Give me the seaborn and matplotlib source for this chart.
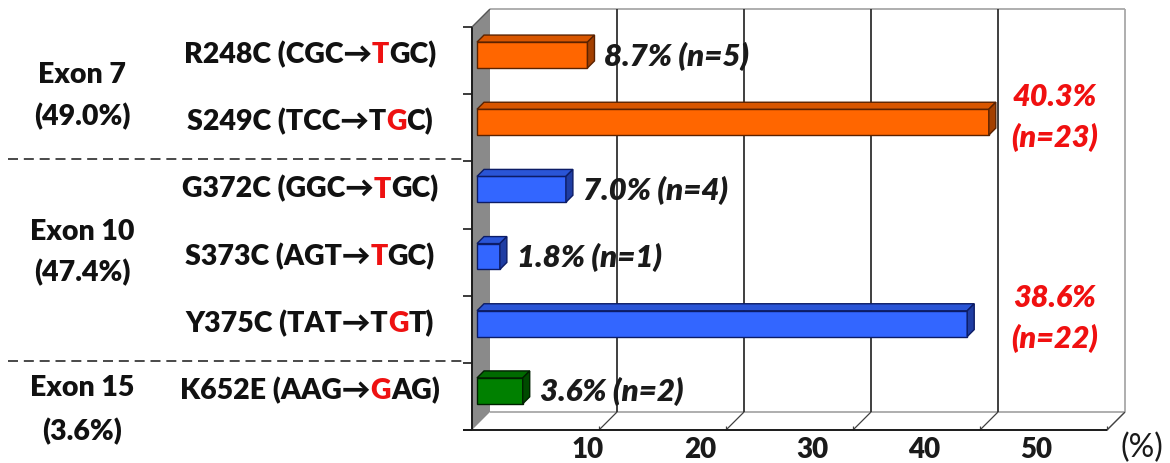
import matplotlib
matplotlib.use("Agg")
import matplotlib.pyplot as plt
from matplotlib.patches import Polygon
import numpy as np
import pandas as pd
import seaborn as sns

# ---- data -------------------------------------------------------------
mutations = ["R248C", "S249C", "G372C", "S373C", "Y375C", "K652E"]
codon_parts = [
    [("R248C (CGC\u2192", "k"), ("T", "r"), ("GC)", "k")],
    [("S249C (TCC\u2192T", "k"), ("G", "r"), ("C)", "k")],
    [("G372C (GGC\u2192", "k"), ("T", "r"), ("GC)", "k")],
    [("S373C (AGT\u2192", "k"), ("T", "r"), ("GC)", "k")],
    [("Y375C (TAT\u2192T", "k"), ("G", "r"), ("T)", "k")],
    [("K652E (AAG\u2192", "k"), ("G", "r"), ("AG)", "k")],
]
percent = [8.7, 40.3, 7.0, 1.8, 38.6, 3.6]
counts = [5, 23, 4, 1, 22, 2]
exon_of = ["Exon 7", "Exon 7", "Exon 10", "Exon 10", "Exon 10", "Exon 15"]
exon_names = ["Exon 7", "Exon 10", "Exon 15"]
exon_share = ["(49.0%)", "(47.4%)", "(3.6%)"]
highlight = [False, True, False, False, True, False]
x_ticks = [10, 20, 30, 40, 50]

# bar shading per exon: front, top, side, outline
shades = {
    "Exon 7": ("#FF6600", "#D95600", "#A34000", "#5A2200"),
    "Exon 10": ("#3366FF", "#2A55D6", "#1F3DA3", "#0C1C66"),
    "Exon 15": ("#008000", "#006A00", "#004A00", "#002000"),
}

# ---- figure / projection ----------------------------------------------
W, H = 1170, 464
fig = plt.figure(figsize=(W / 100, H / 100), dpi=100)
fig.patch.set_facecolor("white")

PX_X = 12.7       # pixels per percent
PX_Y = 67.17      # pixels per category row
X0_PX = 477       # pixel column of 0 % on the bar plane
Y0_PX = 56        # pixel row of first category centre
L_PX, R_PX, T_PX, B_PX = 460, 1135, 6, 436

ax = fig.add_axes([L_PX / W, (H - B_PX) / H, (R_PX - L_PX) / W, (B_PX - T_PX) / H])

df = pd.DataFrame({"mutation": mutations, "percent": percent, "exon": exon_of})
front_cols = [shades[e][0] for e in exon_of]
sns.barplot(data=df, x="percent", y="mutation", hue="mutation", palette=front_cols,
            legend=False, orient="h", width=0.385, ax=ax, zorder=5,
            linewidth=1.0, saturation=1)

ax.set_xlim((L_PX - X0_PX) / PX_X, (R_PX - X0_PX) / PX_X)
ax.set_ylim((B_PX - Y0_PX) / PX_Y, (T_PX - Y0_PX) / PX_Y)
ax.axis("off")


def px(xp, yp):
    """Pixel position (from top-left) -> data coordinates."""
    return ((xp - X0_PX) / PX_X, (yp - Y0_PX) / PX_Y)


def seg(p1, p2, **kw):
    a, b = px(*p1), px(*p2)
    ax.plot([a[0], b[0]], [a[1], b[1]], clip_on=False, solid_capstyle="butt", **kw)


# 3-D frame: back wall, side wall, floor
DEPTH = 18
FRONT_X0, FRONT_Y = 472, 431
BACK_X0, BACK_Y, TOP_Y = FRONT_X0 + DEPTH, FRONT_Y - DEPTH, 10
BACK_X1 = BACK_X0 + PX_X * 50
FRONT_X1 = FRONT_X0 + PX_X * 50

side_wall = Polygon([px(FRONT_X0, TOP_Y + DEPTH), px(BACK_X0, TOP_Y), px(BACK_X0, BACK_Y),
                     px(FRONT_X0, FRONT_Y)], closed=True, facecolor="#8a8a8a",
                    edgecolor="none", zorder=1, clip_on=False)
ax.add_patch(side_wall)

seg((BACK_X0, TOP_Y), (BACK_X1, TOP_Y), color="#a8a8a8", lw=1.3, zorder=1)
seg((BACK_X1, TOP_Y), (BACK_X1, BACK_Y), color="#a8a8a8", lw=1.3, zorder=1)
seg((BACK_X0, BACK_Y), (BACK_X1, BACK_Y), color="#a8a8a8", lw=1.3, zorder=1)
seg((BACK_X1, BACK_Y), (FRONT_X1, FRONT_Y), color="#a8a8a8", lw=1.0, zorder=1)
for v in x_ticks[:-1]:
    gx = BACK_X0 + PX_X * v
    seg((gx, TOP_Y), (gx, BACK_Y), color="#303030", lw=1.3, zorder=2)
for v in x_ticks:
    seg((BACK_X0 + PX_X * v, BACK_Y), (FRONT_X0 + PX_X * v, FRONT_Y),
        color="#404040", lw=0.9, zorder=2)
    seg((FRONT_X0 + PX_X * v, FRONT_Y), (FRONT_X0 + PX_X * v, FRONT_Y - 4),
        color="#404040", lw=0.9, zorder=2)

# axes lines and category ticks
seg((463, FRONT_Y), (FRONT_X1, FRONT_Y), color="#1a1a1a", lw=1.4, zorder=3)
seg((FRONT_X0, TOP_Y + DEPTH), (FRONT_X0, FRONT_Y), color="#1a1a1a", lw=1.4, zorder=3)
seg((FRONT_X0, TOP_Y + DEPTH), (BACK_X0, TOP_Y), color="#555555", lw=1.0, zorder=3)
for k in range(len(mutations) + 1):
    ty = TOP_Y + DEPTH + PX_Y * k
    seg((463, ty), (FRONT_X0, ty), color="#1a1a1a", lw=1.2, zorder=3)

# exon separators
for k in (2, 5):
    ty = TOP_Y + DEPTH + PX_Y * k - 2
    seg((8, ty), (463, ty), color="#2a2a2a", lw=1.2, zorder=3, linestyle=(0, (6, 3.5)))

# 3-D faces on each bar
ddx, ddy = 7 / PX_X, 7 / PX_Y
for p, ex in zip(ax.patches, exon_of):
    face, top, side, edge = shades[ex]
    p.set_edgecolor(edge)
    x0, w = p.get_x(), p.get_width()
    y0, h = p.get_y(), p.get_height()
    yt = min(y0, y0 + h)
    yb = max(y0, y0 + h)
    x1 = x0 + w
    ax.add_patch(Polygon([(x0, yt), (x1, yt), (x1 + ddx, yt - ddy), (x0 + ddx, yt - ddy)],
                         closed=True, facecolor=top, edgecolor=edge, lw=1.0, zorder=6))
    ax.add_patch(Polygon([(x1, yt), (x1 + ddx, yt - ddy), (x1 + ddx, yb - ddy), (x1, yb)],
                         closed=True, facecolor=side, edgecolor=edge, lw=1.0, zorder=6))

FONT = ["Lato", "DejaVu Sans"]
LABEL_SIZE = 20.5
WEIGHT = "heavy"

# value labels
for i, (v, n, big) in enumerate(zip(percent, counts, highlight)):
    if big:
        xp = px(1055, 0)[0]
        ax.text(xp, i - 0.09, f"{v:.1f}%\n(n={n})", ha="center", va="center",
                color="#F01010", fontsize=22, fontweight=WEIGHT, style="italic",
                family=FONT, linespacing=1.5, zorder=8)
    else:
        ax.text(v + 17 / PX_X, i, f"{v:.1f}% (n={n})", ha="left", va="center",
                color="#1a1a1a", fontsize=22.5, fontweight=WEIGHT, style="italic",
                family=FONT, zorder=8)

# x tick labels (projected onto the front edge)
for v in x_ticks:
    fig.text((476 + 11.2 * v) / W, 1 - 450 / H, str(v), ha="center", va="center",
             fontsize=20, fontweight=WEIGHT, family=FONT, color="#1a1a1a")
fig.text(1142 / W, 1 - 448 / H, "(%)", ha="center", va="center", fontsize=23,
         family=FONT, color="#1a1a1a")

# mutation labels with the changed base in red
renderer = fig.canvas.get_renderer()
colmap = {"k": "#111111", "r": "#EE1111"}
for i, parts in enumerate(codon_parts):
    texts = [fig.text(0, 0, s, color=colmap[c], fontsize=LABEL_SIZE, fontweight=WEIGHT,
                      family=FONT, ha="left", va="baseline") for s, c in parts]
    widths = [t.get_window_extent(renderer).width for t in texts]
    total = sum(widths)
    yc = ax.transData.transform((0, i - 0.04))[1]
    xs = 310 - total / 2
    for t, wd in zip(texts, widths):
        t.set_position((xs / W, (yc - 10) / H))
        xs += wd

# exon group labels
exon_rows = {"Exon 7": (75, 117), "Exon 10": (232, 273), "Exon 15": (388, 432)}
for name, share in zip(exon_names, exon_share):
    y1, y2 = exon_rows[name]
    fig.text(82 / W, 1 - y1 / H, name, ha="center", va="center", fontsize=LABEL_SIZE,
             fontweight=WEIGHT, family=FONT, color="#111111")
    fig.text(82 / W, 1 - y2 / H, share, ha="center", va="center", fontsize=LABEL_SIZE,
             fontweight=WEIGHT, family=FONT, color="#111111")

fig.savefig("out.png", dpi=100, facecolor="white")
